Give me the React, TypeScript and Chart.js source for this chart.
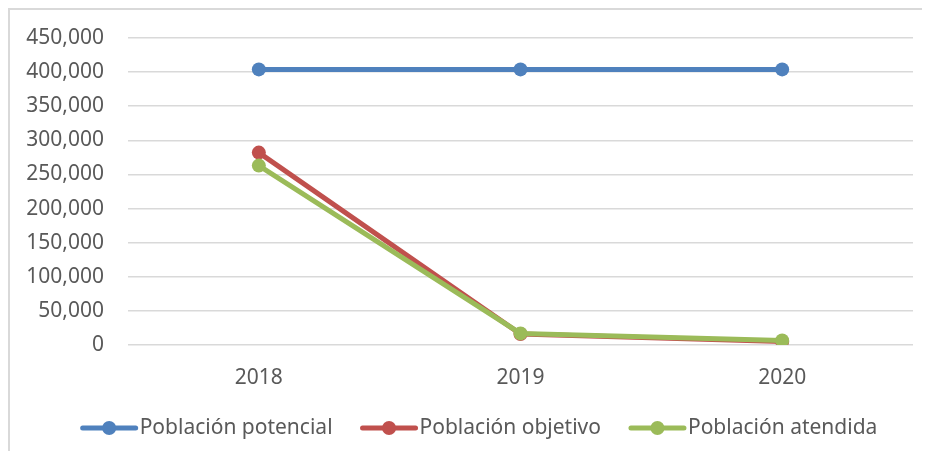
import React, { useEffect, useRef } from "react";
import { Chart, registerables } from "chart.js";

Chart.register(...registerables);

const categories = ["2018", "2019", "2020"];
const potencial = [404000, 404000, 404000];
const objetivo = [282000, 16000, 5000];
const atendida = [263000, 17000, 6500];
const seriesNames = ["Población potencial", "Población objetivo", "Población atendida"];
const seriesColors = ["#4f81bd", "#c0504d", "#9bbb59"];

const FONT = "'Noto Sans', 'Open Sans', sans-serif";
const TEXT = "#595959";

const legendPlugin = {
  id: "customLegend",
  afterDraw(chart: any) {
    const ctx = chart.ctx as CanvasRenderingContext2D;
    const ds = chart.data.datasets;
    ctx.save();
    ctx.font = `21px ${FONT}`;
    const lineLen = 57;
    const textGap = 2;
    const itemGap = 28;
    const widths = ds.map((d: any) => lineLen + textGap + ctx.measureText(d.label).width);
    const total = widths.reduce((a: number, b: number) => a + b, 0) + itemGap * (ds.length - 1);
    let x = 469 - total / 2;
    const y = 418;
    ds.forEach((d: any, i: number) => {
      ctx.strokeStyle = d.borderColor;
      ctx.lineWidth = 5;
      ctx.lineCap = "round";
      ctx.beginPath();
      ctx.moveTo(x + 2, y);
      ctx.lineTo(x + lineLen - 2, y);
      ctx.stroke();
      ctx.fillStyle = d.borderColor;
      ctx.beginPath();
      ctx.arc(x + lineLen / 2, y, 7, 0, Math.PI * 2);
      ctx.fill();
      ctx.fillStyle = TEXT;
      ctx.textBaseline = "middle";
      ctx.textAlign = "left";
      ctx.fillText(d.label, x + lineLen + textGap, y);
      x += widths[i] + itemGap;
    });
    ctx.restore();
  },
};

export default function App() {
  const ref = useRef<HTMLCanvasElement>(null);
  useEffect(() => {
    if (!ref.current) return;
    const mk = (i: number, data: number[], order: number) => ({
      label: seriesNames[i],
      data,
      borderColor: seriesColors[i],
      backgroundColor: seriesColors[i],
      borderWidth: 5,
      pointRadius: 7,
      pointHoverRadius: 7,
      pointBorderWidth: 0,
      tension: 0,
      order,
    });
    const chart = new Chart(ref.current, {
      type: "line",
      data: {
        labels: categories,
        datasets: [mk(0, potencial, 2), mk(1, objetivo, 1), mk(2, atendida, 0)],
      },
      options: {
        animation: false,
        responsive: false,
        maintainAspectRatio: false,
        layout: { padding: { top: 28, right: 9, bottom: 0, left: 0 } },
        plugins: { legend: { display: false }, tooltip: { enabled: false } },
        scales: {
          x: {
            offset: true,
            grid: { display: false, drawTicks: false },
            border: { display: false },
            ticks: { color: TEXT, font: { family: FONT, size: 21 }, padding: 20 },
            afterFit(scale: any) {
              scale.height = 106;
              scale.paddingTop = 0;
              scale.paddingBottom = 0;
            },
          },
          y: {
            min: 0,
            max: 450000,
            grid: { color: "#d9d9d9", lineWidth: 1.5, drawTicks: false },
            border: { display: false },
            ticks: {
              stepSize: 50000,
              color: TEXT,
              font: { family: FONT, size: 21 },
              padding: 24,
              callback: (v: any) => Number(v).toLocaleString("en-US"),
            },
            afterFit(scale: any) {
              scale.width = 118;
              scale.paddingTop = 0;
              scale.paddingBottom = 0;
            },
          },
        },
      },
      plugins: [legendPlugin],
    });
    return () => chart.destroy();
  }, []);
  return (
    <div
      style={{
        width: 912,
        height: 441,
        borderTop: "2px solid #d9d9d9",
        borderLeft: "2px solid #d9d9d9",
        background: "#fff",
      }}
    >
      <canvas ref={ref} width={912} height={441} style={{ display: "block" }} />
    </div>
  );
}
